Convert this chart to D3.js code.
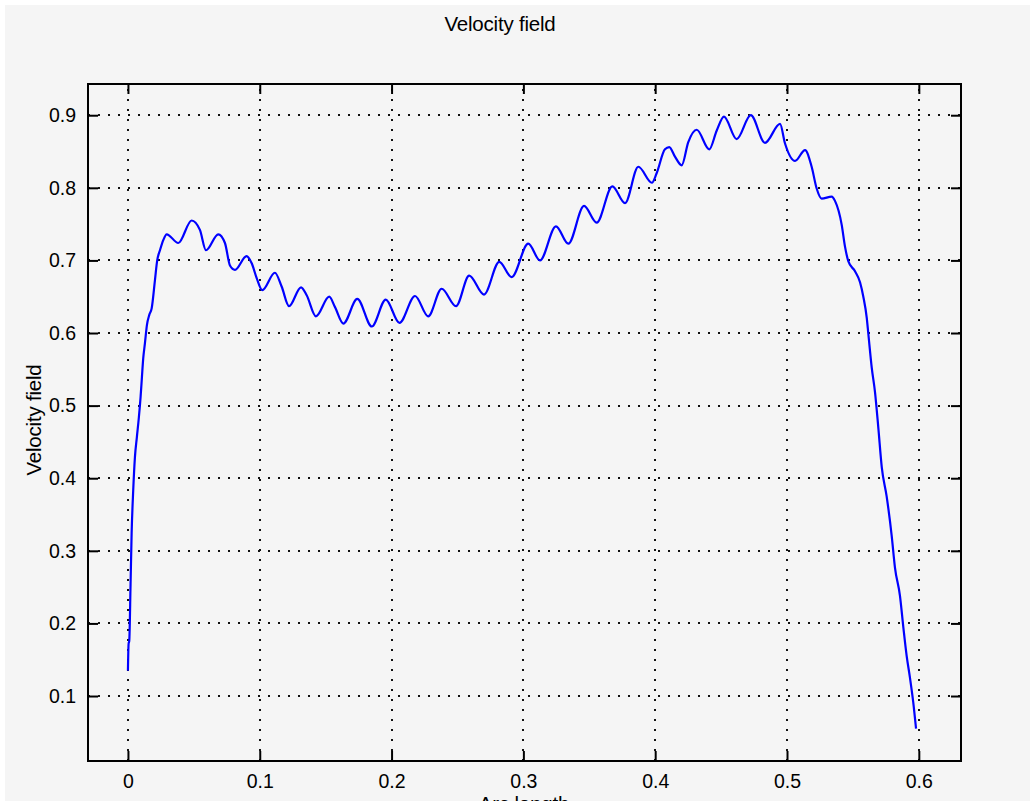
<!DOCTYPE html>
<html>
<head>
<meta charset="utf-8">
<script src="https://cdn.jsdelivr.net/npm/d3@7"></script>
<style>
  html, body { margin: 0; padding: 0; background: #ffffff; }
  svg { display: block; }
  text { font-family: "Liberation Sans", Arial, Helvetica, sans-serif; fill: #000; }
</style>
</head>
<body>
<svg id="chart" width="1030" height="801"></svg>
<script>
// Velocity along the arc (arc length, velocity)
const arcLength = [
  0.0000, 0.0005, 0.0010, 0.0020, 0.0028, 0.0040, 0.0053, 0.0068, 0.0083, 0.0096,
  0.0106, 0.0116, 0.0129, 0.0144, 0.0162, 0.0180, 0.0205, 0.0222, 0.0243, 0.0268,
  0.0294, 0.0382, 0.0483, 0.0546, 0.0592, 0.0685, 0.0736, 0.0774, 0.0812, 0.0900,
  0.0939, 0.0976, 0.1019, 0.1115, 0.1166, 0.1222, 0.1313, 0.1356, 0.1426, 0.1527,
  0.1570, 0.1634, 0.1740, 0.1850, 0.1956, 0.2060, 0.2178, 0.2278, 0.2380, 0.2489,
  0.2589, 0.2701, 0.2817, 0.2911, 0.3037, 0.3126, 0.3247, 0.3341, 0.3460, 0.3556,
  0.3675, 0.3771, 0.3872, 0.3975, 0.4011, 0.4074, 0.4107, 0.4150, 0.4201, 0.4251,
  0.4315, 0.4410, 0.4467, 0.4522, 0.4618, 0.4725, 0.4833, 0.4947, 0.4985, 0.5061,
  0.5137, 0.5187, 0.5225, 0.5263, 0.5339, 0.5364, 0.5415, 0.5440, 0.5465, 0.5516,
  0.5554, 0.5579, 0.5605, 0.5617, 0.5643, 0.5668, 0.5693, 0.5719, 0.5756, 0.5794,
  0.5819, 0.5857, 0.5883, 0.5908, 0.5933, 0.5958, 0.5979
];
const velocity = [
  0.135, 0.172, 0.176, 0.255, 0.324, 0.383, 0.429, 0.457, 0.484, 0.512,
  0.539, 0.565, 0.586, 0.611, 0.625, 0.634, 0.673, 0.700, 0.714, 0.728,
  0.736, 0.724, 0.755, 0.742, 0.714, 0.736, 0.724, 0.693, 0.687, 0.706,
  0.696, 0.676, 0.659, 0.683, 0.664, 0.637, 0.663, 0.652, 0.623, 0.650,
  0.636, 0.613, 0.647, 0.609, 0.646, 0.614, 0.651, 0.623, 0.661, 0.637,
  0.679, 0.653, 0.698, 0.677, 0.723, 0.700, 0.747, 0.723, 0.775, 0.752,
  0.802, 0.779, 0.829, 0.807, 0.820, 0.853, 0.856, 0.843, 0.831, 0.863,
  0.880, 0.853, 0.879, 0.898, 0.867, 0.900, 0.862, 0.888, 0.861, 0.837,
  0.852, 0.829, 0.799, 0.785, 0.788, 0.782, 0.749, 0.719, 0.699, 0.685,
  0.670, 0.650, 0.621, 0.599, 0.552, 0.518, 0.469, 0.415, 0.375, 0.321,
  0.277, 0.238, 0.194, 0.155, 0.125, 0.091, 0.055
];
const xTicks = [0, 0.1, 0.2, 0.3, 0.4, 0.5, 0.6];
const yTicks = [0.1, 0.2, 0.3, 0.4, 0.5, 0.6, 0.7, 0.8, 0.9];
const xDomain = [-0.0303, 0.6320];
const yDomain = [0.0105, 0.9430];

const titleText = "Velocity field";
const xLabelText = "Arc length";
const yLabelText = "Velocity field";

const W = 1030, H = 801;
const plot = { left: 88, top: 84, right: 961, bottom: 761 };
const labelFont = 19.5;

const svg = d3.select("#chart");

// figure background
svg.append("rect")
  .attr("x", 5).attr("y", 5)
  .attr("width", W - 5).attr("height", H - 5)
  .attr("fill", "#f5f5f5");

const x = d3.scaleLinear().domain(xDomain).range([plot.left, plot.right]);
const y = d3.scaleLinear().domain(yDomain).range([plot.bottom, plot.top]);

// dotted grid
const grid = svg.append("g")
  .attr("stroke", "#111")
  .attr("stroke-width", 2)
  .attr("stroke-dasharray", "2,8");
grid.selectAll("line.v").data(xTicks).join("line")
  .attr("class", "v")
  .attr("x1", d => Math.round(x(d))).attr("x2", d => Math.round(x(d)))
  .attr("y1", plot.bottom).attr("y2", plot.top);
grid.selectAll("line.h").data(yTicks).join("line")
  .attr("class", "h")
  .attr("y1", d => Math.round(y(d))).attr("y2", d => Math.round(y(d)))
  .attr("x1", plot.left).attr("x2", plot.right);

// data line
const pts = arcLength.map((a, i) => [a, velocity[i]]);
const line = d3.line()
  .x(d => x(d[0]))
  .y(d => y(d[1]))
  .curve(d3.curveMonotoneX);
svg.append("path")
  .datum(pts)
  .attr("d", line)
  .attr("fill", "none")
  .attr("stroke", "#0000ff")
  .attr("stroke-width", 2.2);

// axes with inward ticks on all four sides
const tickLen = 10;
const axStyle = g => {
  g.select(".domain").remove();
  g.selectAll(".tick line").attr("stroke", "#000").attr("stroke-width", 2);
  g.selectAll(".tick text").attr("font-size", labelFont).attr("fill", "#000")
    .style("font-family", '"Liberation Sans", Arial, sans-serif');
};

svg.append("g")
  .attr("transform", `translate(0,${plot.bottom})`)
  .call(d3.axisBottom(x).tickValues(xTicks).tickSizeInner(-tickLen).tickSizeOuter(0)
    .tickPadding(13).tickFormat(d3.format("")))
  .call(axStyle);
svg.append("g")
  .attr("transform", `translate(0,${plot.top})`)
  .call(d3.axisTop(x).tickValues(xTicks).tickSizeInner(-tickLen).tickSizeOuter(0)
    .tickFormat(""))
  .call(axStyle);
svg.append("g")
  .attr("transform", `translate(${plot.left},0)`)
  .call(d3.axisLeft(y).tickValues(yTicks).tickSizeInner(-tickLen).tickSizeOuter(0)
    .tickPadding(12).tickFormat(d3.format("")))
  .call(axStyle);
svg.append("g")
  .attr("transform", `translate(${plot.right},0)`)
  .call(d3.axisRight(y).tickValues(yTicks).tickSizeInner(-tickLen).tickSizeOuter(0)
    .tickFormat(""))
  .call(axStyle);

// plot box
svg.append("rect")
  .attr("x", plot.left).attr("y", plot.top)
  .attr("width", plot.right - plot.left).attr("height", plot.bottom - plot.top)
  .attr("fill", "none")
  .attr("stroke", "#000")
  .attr("stroke-width", 2);

// title and axis labels
svg.append("text")
  .attr("x", 500).attr("y", 31)
  .attr("text-anchor", "middle")
  .attr("font-size", 20.5)
  .attr("letter-spacing", -0.2)
  .text(titleText);

svg.append("text")
  .attr("x", 524).attr("y", 811)
  .attr("text-anchor", "middle")
  .attr("font-size", 20.5)
  .attr("letter-spacing", -0.2)
  .text(xLabelText);

svg.append("text")
  .attr("transform", `translate(41,420) rotate(-90)`)
  .attr("text-anchor", "middle")
  .attr("font-size", 20.5)
  .attr("letter-spacing", -0.2)
  .text(yLabelText);
</script>
</body>
</html>
